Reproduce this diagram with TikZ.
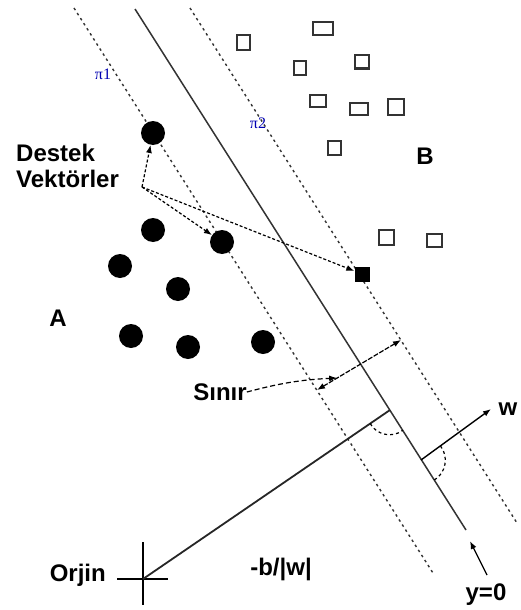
\documentclass[tikz,border=0pt]{standalone}
\usepackage{fontspec}
\setmainfont{Liberation Sans}
\newfontfamily\serif{Liberation Serif}
\usetikzlibrary{arrows.meta,calc}

\begin{document}
\begin{tikzpicture}[
    x=1pt, y=-1pt,
    lbl/.style={font=\fontsize{24}{26}\selectfont\bfseries, inner sep=0pt, align=left},
    plane/.style={font=\fontsize{16}{17}\selectfont\serif, text=blue!70!black, inner sep=0pt},
    dot/.style={circle, fill=black, minimum size=24pt, inner sep=0pt},
    sq/.style={rectangle, draw=black!80, line width=2pt, inner sep=0pt},
    margin/.style={dash pattern=on 2.5pt off 3.5pt, line width=1.4pt, black!80},
    arrow/.style={-{Latex[length=8pt,width=6pt]}, line width=1.2pt},
    darrow/.style={{Latex[length=8pt,width=6pt]}-{Latex[length=8pt,width=6pt]}, line width=1.2pt, dash pattern=on 5pt off 1.5pt}
]
\useasboundingbox (0,0) rectangle (520,610);

% Separating lines
\coordinate (c1) at (135,9);
\coordinate (c2) at (466,530);
\coordinate (h1a) at (74,8);
\coordinate (h1b) at (433,573);
\coordinate (h2a) at (190,8);
\coordinate (h2b) at (517,523);
\draw[line width=1.5pt, black!80] (c1) -- (c2);
\draw[margin] (h1a) -- (h1b);
\draw[margin] (h2a) -- (h2b);
\node[plane] (p1) at (103,74) {π1};
\node[plane] (p2) at (258,123) {π2};

% Class A
\foreach \px/\py/\n in {153/133/1, 153/230/2, 120/266/3, 222/242/4, 178/289/5, 131/336/6, 188/347/7, 263/342/8}
    \node[dot] (d\n) at (\px,\py) {};
\node[lbl] (classa) at (58,318) {A};

% Class B
\foreach \px/\py/\w/\h/\n in {243/43/13/15/1, 323/29/20/13/2, 300/68/12/14/3, 362/62/14/13/4, 318/101/16/12/5, 359/109/18/12/6, 396/107/16/16/7, 334/148/13/14/8, 386/237/15/15/9, 434/240/15/13/10}
    \node[sq, minimum width=\w pt, minimum height=\h pt] (s\n) at (\px,\py) {};
\node[rectangle, fill=black, minimum size=15pt, inner sep=0pt] (sv) at (362,274) {};
\node[lbl] (classb) at (425,156) {B};

% Support vectors
\node[lbl, anchor=north west] (dv) at (16,144) {Destek\\Vektörler};
\coordinate (dvc) at (142,187);
\draw[arrow, dash pattern=on 3pt off 2pt] (dvc) -- (d1);
\draw[arrow, dash pattern=on 3pt off 2pt] (dvc) -- (d4);
\draw[arrow, dash pattern=on 3pt off 2pt] (dvc) -- (sv);

% Margin
\coordinate (mlo) at (317,390);
\coordinate (mhi) at (401,340);
\coordinate (mt) at ($(mlo)!0.24!(mhi)$);
\draw[darrow] (mlo) -- (mhi);
\node[lbl] (sinir) at (220,392) {Sınır};
\draw[arrow, dash pattern=on 5pt off 3pt] (sinir.east) to[bend left=6] (mt);

% Origin and normal
\coordinate (org) at (143,579);
\coordinate (foot) at (390,410);
\draw[line width=1.2pt] (117,579) -- (168,579);
\draw[line width=1.2pt] (143,542) -- (143,605);
\node[lbl, anchor=east] (orjin) at (106,575) {Orjin};
\draw[line width=1.8pt, black!85] (org) -- (foot);
\draw[dashed, line width=1.2pt] ($(foot)!24pt!(org)$) to[bend right=50] ($(foot)!24pt!(c2)$);
\node[lbl] (bw) at (281,569) {-b/|w|};

% Weight vector
\coordinate (wb) at (421,460);
\coordinate (wt) at (491,409);
\draw[arrow, line width=1.4pt] (wb) -- (wt);
\node[lbl] (w) at (508,409) {w};
\draw[dashed, line width=1.2pt] ($(wb)!24pt!(wt)$) to[bend left=50] ($(wb)!24pt!(c2)$);

% y=0
\node[lbl] (yz) at (486,595) {y=0};
\coordinate (yt) at (470,541);
\draw[arrow] (487,575) -- (yt);

\end{tikzpicture}
\end{document}
